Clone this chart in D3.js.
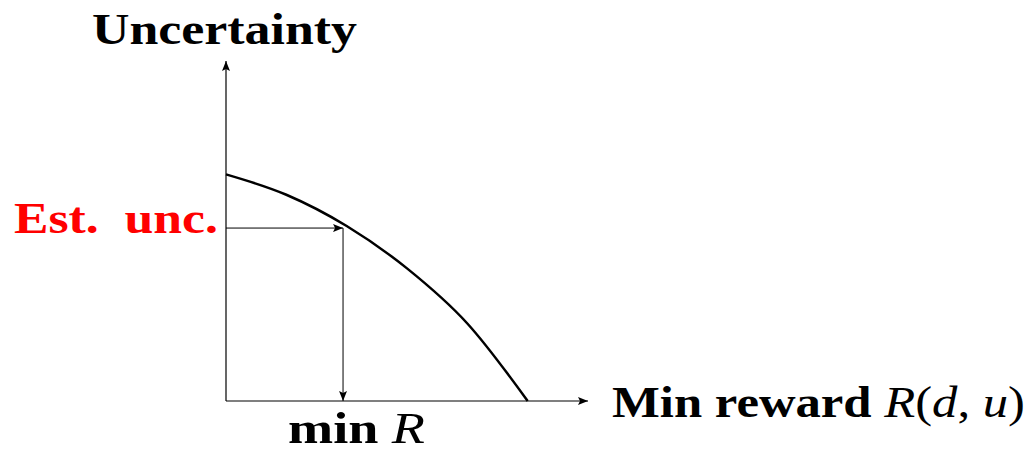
<!DOCTYPE html>
<html>
<head>
<meta charset="utf-8">
<script src="https://cdn.jsdelivr.net/npm/d3@7"></script>
<style>
  body { margin: 0; background: #fff; }
</style>
</head>
<body>
<svg id="chart" width="1035" height="465"></svg>
<script>
// curve (reward x, uncertainty y)
var curveX = [0, 0.2, 0.4, 0.6, 0.8, 1.0];
var curveY = [1.0, 0.91, 0.772, 0.585, 0.342, 0];
var estUnc = 0.763;   // estimated uncertainty level
var minR = 0.388;     // resulting min reward

var svg = d3.select('#chart');
var serif = '"Liberation Serif", "Times New Roman", Times, serif';

var x = d3.scaleLinear().domain([0, 1.2]).range([226, 588]);
var y = d3.scaleLinear().domain([0, 1.5]).range([401, 61]);

var defs = svg.append('defs');
defs.append('marker')
    .attr('id', 'arr')
    .attr('viewBox', '0 0 10 8')
    .attr('refX', 10).attr('refY', 4)
    .attr('markerWidth', 10).attr('markerHeight', 8)
    .attr('markerUnits', 'userSpaceOnUse')
    .attr('orient', 'auto')
  .append('path')
    .attr('d', 'M0,0 L10,4 L0,8 L2,4 Z')
    .style('fill', '#000');

// axes
svg.append('line')
    .attr('x1', x(0)).attr('y1', y(0)).attr('x2', x(1.2)).attr('y2', y(0))
    .style('stroke', '#000').style('stroke-width', 1.2)
    .attr('marker-end', 'url(#arr)');
svg.append('line')
    .attr('x1', x(0)).attr('y1', y(0)).attr('x2', x(0)).attr('y2', y(1.5))
    .style('stroke', '#000').style('stroke-width', 1.2)
    .attr('marker-end', 'url(#arr)');

// curve
var pts = curveX.map(function(d, i) { return [d, curveY[i]]; });
var line = d3.line()
    .x(function(d) { return x(d[0]); })
    .y(function(d) { return y(d[1]); })
    .curve(d3.curveMonotoneX);
svg.append('path')
    .attr('d', line(pts))
    .style('fill', 'none')
    .style('stroke', '#000')
    .style('stroke-width', 2.5);

// est. unc. -> min R arrows
svg.append('line')
    .attr('x1', x(0)).attr('y1', y(estUnc)).attr('x2', x(minR)).attr('y2', y(estUnc))
    .style('stroke', '#000').style('stroke-width', 1)
    .attr('marker-end', 'url(#arr)');
svg.append('line')
    .attr('x1', x(minR)).attr('y1', y(estUnc)).attr('x2', x(minR)).attr('y2', y(0))
    .style('stroke', '#000').style('stroke-width', 1)
    .attr('marker-end', 'url(#arr)');

// labels
svg.append('text')
    .attr('x', 92).attr('y', 44)
    .attr('textLength', 265).attr('lengthAdjust', 'spacingAndGlyphs')
    .style('font-family', serif)
    .style('font-size', '44px').style('font-weight', 'bold')
    .text('Uncertainty');

svg.append('text')
    .attr('x', 14).attr('y', 233)
    .attr('textLength', 204).attr('lengthAdjust', 'spacingAndGlyphs')
    .style('font-family', serif)
    .style('font-size', '44px').style('font-weight', 'bold')
    .style('fill', '#ff0000')
    .text('Est.\u00a0 unc.');

var xl = svg.append('text')
    .attr('x', 612).attr('y', 417)
    .attr('textLength', 413).attr('lengthAdjust', 'spacingAndGlyphs')
    .style('font-family', serif)
    .style('font-size', '44px');
xl.append('tspan').style('font-weight', 'bold').text('Min reward ');
xl.append('tspan').style('font-style', 'italic').text('R');
xl.append('tspan').text('(');
xl.append('tspan').style('font-style', 'italic').text('d');
xl.append('tspan').text(', ');
xl.append('tspan').style('font-style', 'italic').text('u');
xl.append('tspan').text(')');

var ml = svg.append('text')
    .attr('x', 288).attr('y', 443)
    .attr('textLength', 137).attr('lengthAdjust', 'spacingAndGlyphs')
    .style('font-family', serif)
    .style('font-size', '44px');
ml.append('tspan').style('font-weight', 'bold').text('min ');
ml.append('tspan').style('font-style', 'italic').text('R');
</script>
</body>
</html>
